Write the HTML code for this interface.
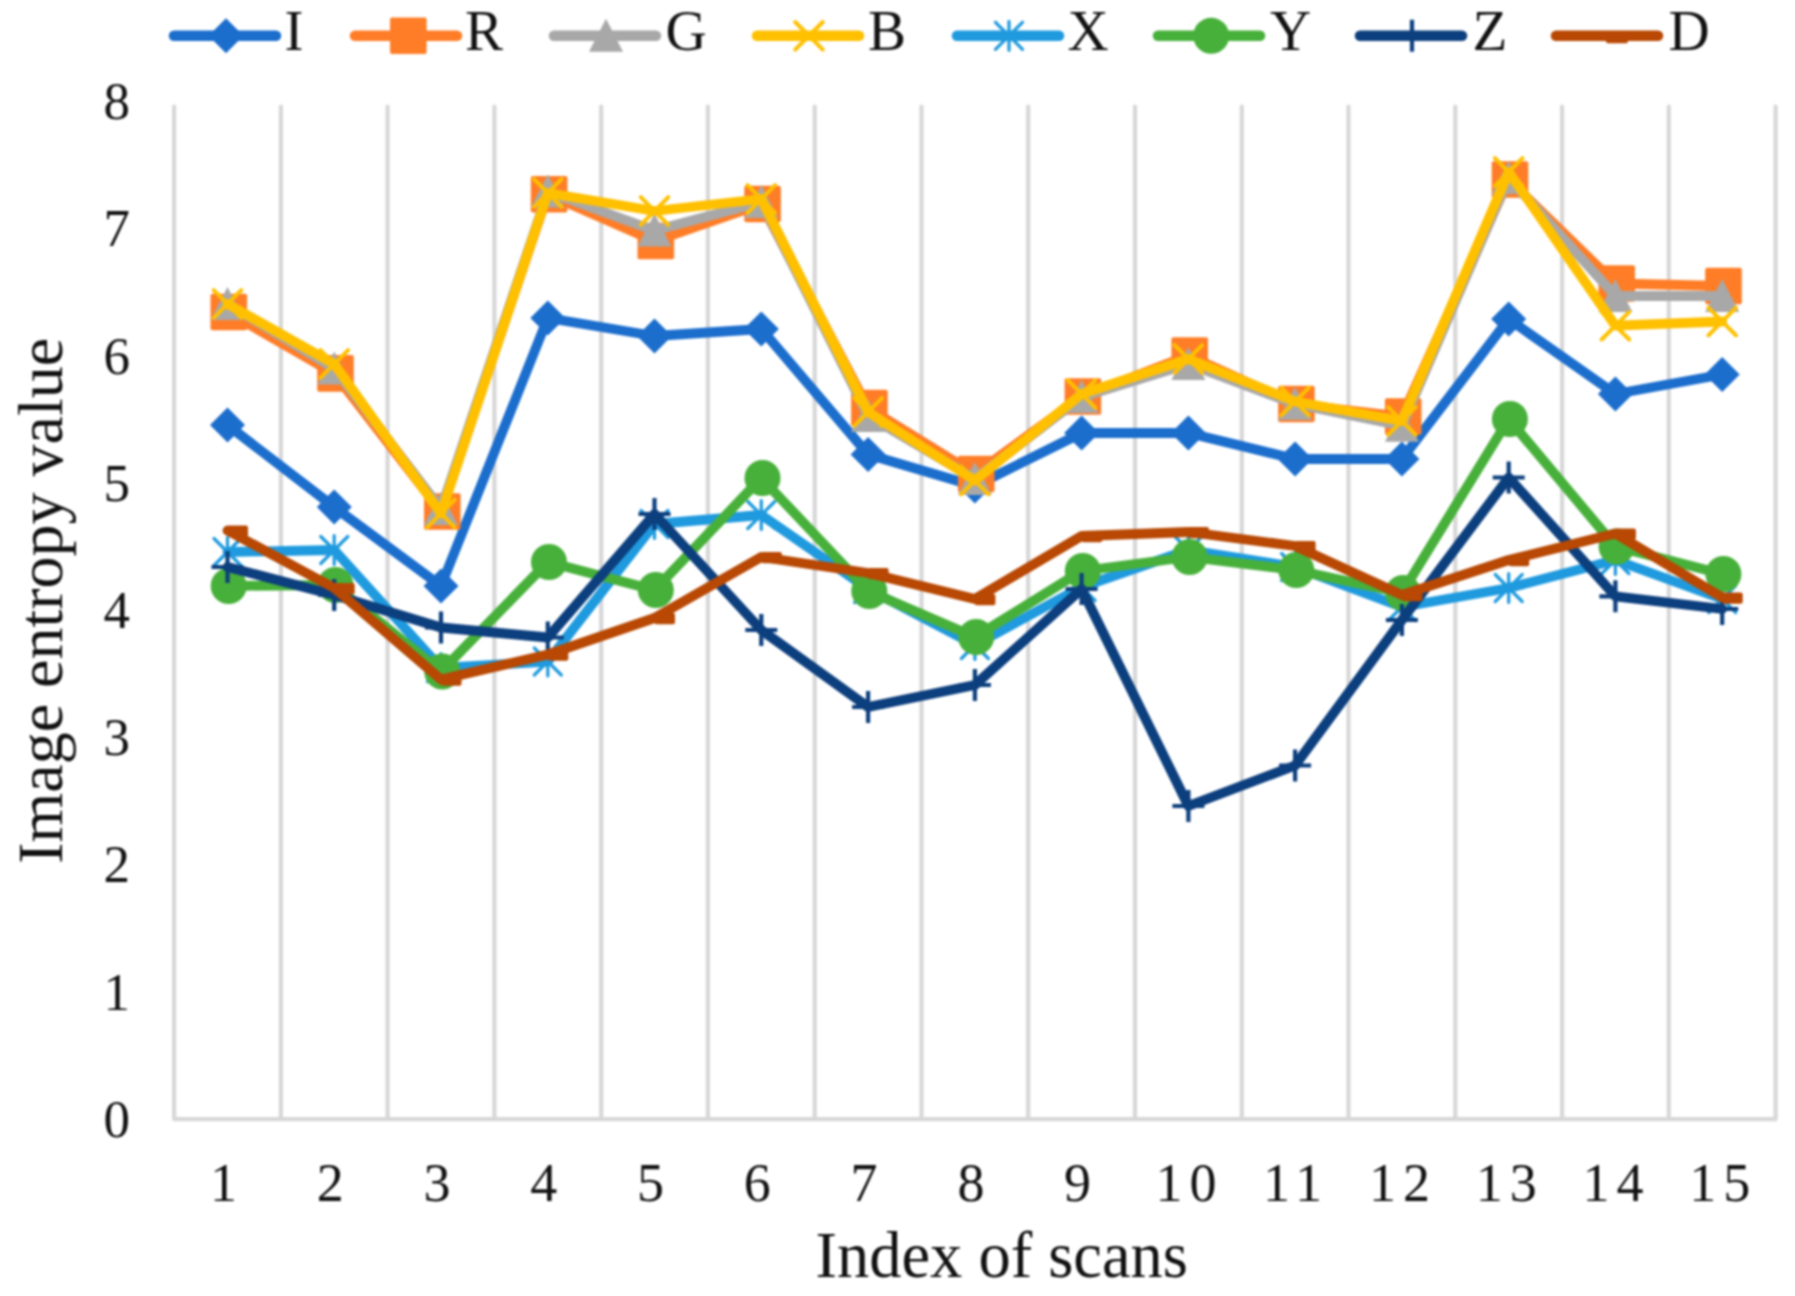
<!DOCTYPE html>
<html><head><meta charset="utf-8"><title>Image entropy chart</title>
<style>
html,body{margin:0;padding:0;background:#fff;}
body{width:1795px;height:1296px;overflow:hidden;}
svg{display:block;filter:blur(0.8px);}
text{font-family:"Liberation Serif","Times New Roman",serif;fill:#111;}
</style></head><body>
<svg width="1795" height="1296" viewBox="0 0 1795 1296">
<rect width="1795" height="1296" fill="#fff"/>

<path d="M174.1 106.6V1119.1M280.9 106.6V1119.1M387.6 106.6V1119.1M494.4 106.6V1119.1M601.2 106.6V1119.1M707.9 106.6V1119.1M814.7 106.6V1119.1M921.5 106.6V1119.1M1028.2 106.6V1119.1M1135.0 106.6V1119.1M1241.8 106.6V1119.1M1348.5 106.6V1119.1M1455.3 106.6V1119.1M1562.1 106.6V1119.1M1668.8 106.6V1119.1M1775.6 106.6V1119.1M174.1 1119.1H1775.6" stroke="#d7d7d7" stroke-width="4.2" fill="none" stroke-linecap="round"/>
<text x="130" y="1136.8" font-size="53" text-anchor="end">0</text>
<text x="130" y="1009.6" font-size="53" text-anchor="end">1</text>
<text x="130" y="882.4" font-size="53" text-anchor="end">2</text>
<text x="130" y="755.1" font-size="53" text-anchor="end">3</text>
<text x="130" y="627.9" font-size="53" text-anchor="end">4</text>
<text x="130" y="500.7" font-size="53" text-anchor="end">5</text>
<text x="130" y="373.5" font-size="53" text-anchor="end">6</text>
<text x="130" y="246.3" font-size="53" text-anchor="end">7</text>
<text x="130" y="119.0" font-size="53" text-anchor="end">8</text>
<text x="223.5" y="1200.5" font-size="54" text-anchor="middle">1</text>
<text x="330.2" y="1200.5" font-size="54" text-anchor="middle">2</text>
<text x="437.0" y="1200.5" font-size="54" text-anchor="middle">3</text>
<text x="543.8" y="1200.5" font-size="54" text-anchor="middle">4</text>
<text x="650.5" y="1200.5" font-size="54" text-anchor="middle">5</text>
<text x="757.3" y="1200.5" font-size="54" text-anchor="middle">6</text>
<text x="864.1" y="1200.5" font-size="54" text-anchor="middle">7</text>
<text x="970.9" y="1200.5" font-size="54" text-anchor="middle">8</text>
<text x="1077.6" y="1200.5" font-size="54" text-anchor="middle">9</text>
<text x="1189.4" y="1200.5" font-size="54" text-anchor="middle" letter-spacing="7">10</text>
<text x="1296.1" y="1200.5" font-size="54" text-anchor="middle" letter-spacing="7">11</text>
<text x="1402.9" y="1200.5" font-size="54" text-anchor="middle" letter-spacing="7">12</text>
<text x="1509.7" y="1200.5" font-size="54" text-anchor="middle" letter-spacing="7">13</text>
<text x="1616.4" y="1200.5" font-size="54" text-anchor="middle" letter-spacing="7">14</text>
<text x="1723.2" y="1200.5" font-size="54" text-anchor="middle" letter-spacing="7">15</text>
<text x="1001.7" y="1276.5" font-size="64.5" text-anchor="middle">Index of scans</text>
<text transform="translate(62 600.8) rotate(-90)" font-size="64" text-anchor="middle">Image entropy value</text>
<g><polyline points="227.5,425.0 334.2,507.0 441.0,586.0 547.8,318.0 654.5,336.0 761.3,329.0 868.1,454.5 974.9,486.0 1081.6,433.0 1188.4,433.0 1295.1,459.0 1401.9,459.0 1508.7,319.0 1615.4,394.0 1722.2,374.5" fill="none" stroke="#1c6ecd" stroke-width="9.8" stroke-linejoin="round" stroke-linecap="round"/>
<path d="M210.0 425.0L227.5 407.5L245.0 425.0L227.5 442.5Z" fill="#1c6ecd"/>
<path d="M316.8 507.0L334.2 489.5L351.8 507.0L334.2 524.5Z" fill="#1c6ecd"/>
<path d="M423.5 586.0L441.0 568.5L458.5 586.0L441.0 603.5Z" fill="#1c6ecd"/>
<path d="M530.3 318.0L547.8 300.5L565.3 318.0L547.8 335.5Z" fill="#1c6ecd"/>
<path d="M637.0 336.0L654.5 318.5L672.0 336.0L654.5 353.5Z" fill="#1c6ecd"/>
<path d="M743.8 329.0L761.3 311.5L778.8 329.0L761.3 346.5Z" fill="#1c6ecd"/>
<path d="M850.6 454.5L868.1 437.0L885.6 454.5L868.1 472.0Z" fill="#1c6ecd"/>
<path d="M957.4 486.0L974.9 468.5L992.4 486.0L974.9 503.5Z" fill="#1c6ecd"/>
<path d="M1064.1 433.0L1081.6 415.5L1099.1 433.0L1081.6 450.5Z" fill="#1c6ecd"/>
<path d="M1170.9 433.0L1188.4 415.5L1205.9 433.0L1188.4 450.5Z" fill="#1c6ecd"/>
<path d="M1277.6 459.0L1295.1 441.5L1312.6 459.0L1295.1 476.5Z" fill="#1c6ecd"/>
<path d="M1384.4 459.0L1401.9 441.5L1419.4 459.0L1401.9 476.5Z" fill="#1c6ecd"/>
<path d="M1491.2 319.0L1508.7 301.5L1526.2 319.0L1508.7 336.5Z" fill="#1c6ecd"/>
<path d="M1597.9 394.0L1615.4 376.5L1632.9 394.0L1615.4 411.5Z" fill="#1c6ecd"/>
<path d="M1704.7 374.5L1722.2 357.0L1739.7 374.5L1722.2 392.0Z" fill="#1c6ecd"/>
</g>
<g><polyline points="227.5,312.0 334.2,373.4 441.0,511.5 547.8,194.3 654.5,241.0 761.3,204.0 868.1,408.0 974.9,474.0 1081.6,396.5 1188.4,355.5 1295.1,404.0 1401.9,416.5 1508.7,179.5 1615.4,283.5 1722.2,286.0" fill="none" stroke="#ff7d27" stroke-width="9.8" stroke-linejoin="round" stroke-linecap="round"/>
<rect x="210.5" y="293.7" width="36.6" height="36.6" rx="2" fill="#ff7d27"/>
<rect x="317.2" y="355.1" width="36.6" height="36.6" rx="2" fill="#ff7d27"/>
<rect x="424.0" y="493.2" width="36.6" height="36.6" rx="2" fill="#ff7d27"/>
<rect x="530.8" y="176.0" width="36.6" height="36.6" rx="2" fill="#ff7d27"/>
<rect x="637.5" y="222.7" width="36.6" height="36.6" rx="2" fill="#ff7d27"/>
<rect x="744.3" y="185.7" width="36.6" height="36.6" rx="2" fill="#ff7d27"/>
<rect x="851.1" y="389.7" width="36.6" height="36.6" rx="2" fill="#ff7d27"/>
<rect x="957.9" y="455.7" width="36.6" height="36.6" rx="2" fill="#ff7d27"/>
<rect x="1064.6" y="378.2" width="36.6" height="36.6" rx="2" fill="#ff7d27"/>
<rect x="1171.4" y="337.2" width="36.6" height="36.6" rx="2" fill="#ff7d27"/>
<rect x="1278.1" y="385.7" width="36.6" height="36.6" rx="2" fill="#ff7d27"/>
<rect x="1384.9" y="398.2" width="36.6" height="36.6" rx="2" fill="#ff7d27"/>
<rect x="1491.7" y="161.2" width="36.6" height="36.6" rx="2" fill="#ff7d27"/>
<rect x="1598.4" y="265.2" width="36.6" height="36.6" rx="2" fill="#ff7d27"/>
<rect x="1705.2" y="267.7" width="36.6" height="36.6" rx="2" fill="#ff7d27"/>
</g>
<g><polyline points="227.5,304.0 334.2,368.4 441.0,509.0 547.8,191.5 654.5,230.6 761.3,202.0 868.1,416.0 974.9,479.0 1081.6,397.0 1188.4,364.0 1295.1,404.0 1401.9,425.7 1508.7,178.0 1615.4,296.0 1722.2,296.0" fill="none" stroke="#a8a8a8" stroke-width="9.8" stroke-linejoin="round" stroke-linecap="round"/>
<path d="M227.5 287.0L244.5 320.0L210.5 320.0Z" fill="#a8a8a8"/>
<path d="M334.2 351.4L351.2 384.4L317.2 384.4Z" fill="#a8a8a8"/>
<path d="M441.0 492.0L458.0 525.0L424.0 525.0Z" fill="#a8a8a8"/>
<path d="M547.8 174.5L564.8 207.5L530.8 207.5Z" fill="#a8a8a8"/>
<path d="M654.5 213.6L671.5 246.6L637.5 246.6Z" fill="#a8a8a8"/>
<path d="M761.3 185.0L778.3 218.0L744.3 218.0Z" fill="#a8a8a8"/>
<path d="M868.1 399.0L885.1 432.0L851.1 432.0Z" fill="#a8a8a8"/>
<path d="M974.9 462.0L991.9 495.0L957.9 495.0Z" fill="#a8a8a8"/>
<path d="M1081.6 380.0L1098.6 413.0L1064.6 413.0Z" fill="#a8a8a8"/>
<path d="M1188.4 347.0L1205.4 380.0L1171.4 380.0Z" fill="#a8a8a8"/>
<path d="M1295.1 387.0L1312.1 420.0L1278.1 420.0Z" fill="#a8a8a8"/>
<path d="M1401.9 408.7L1418.9 441.7L1384.9 441.7Z" fill="#a8a8a8"/>
<path d="M1508.7 161.0L1525.7 194.0L1491.7 194.0Z" fill="#a8a8a8"/>
<path d="M1615.4 279.0L1632.4 312.0L1598.4 312.0Z" fill="#a8a8a8"/>
<path d="M1722.2 279.0L1739.2 312.0L1705.2 312.0Z" fill="#a8a8a8"/>
</g>
<g><polyline points="227.5,304.0 334.2,364.0 441.0,513.5 547.8,193.0 654.5,211.0 761.3,199.0 868.1,412.0 974.9,480.5 1081.6,394.0 1188.4,359.0 1295.1,401.5 1401.9,421.0 1508.7,172.0 1615.4,325.7 1722.2,321.5" fill="none" stroke="#ffc000" stroke-width="9.8" stroke-linejoin="round" stroke-linecap="round"/>
<path d="M213.7 290.2L241.3 317.8M241.3 290.2L213.7 317.8" stroke="#ffc000" stroke-width="4" stroke-linecap="round" fill="none"/>
<path d="M320.4 350.2L348.1 377.8M348.1 350.2L320.4 377.8" stroke="#ffc000" stroke-width="4" stroke-linecap="round" fill="none"/>
<path d="M427.2 499.7L454.8 527.3M454.8 499.7L427.2 527.3" stroke="#ffc000" stroke-width="4" stroke-linecap="round" fill="none"/>
<path d="M534.0 179.2L561.6 206.8M561.6 179.2L534.0 206.8" stroke="#ffc000" stroke-width="4" stroke-linecap="round" fill="none"/>
<path d="M640.8 197.2L668.3 224.8M668.3 197.2L640.8 224.8" stroke="#ffc000" stroke-width="4" stroke-linecap="round" fill="none"/>
<path d="M747.5 185.2L775.1 212.8M775.1 185.2L747.5 212.8" stroke="#ffc000" stroke-width="4" stroke-linecap="round" fill="none"/>
<path d="M854.3 398.2L881.9 425.8M881.9 398.2L854.3 425.8" stroke="#ffc000" stroke-width="4" stroke-linecap="round" fill="none"/>
<path d="M961.1 466.7L988.6 494.3M988.6 466.7L961.1 494.3" stroke="#ffc000" stroke-width="4" stroke-linecap="round" fill="none"/>
<path d="M1067.8 380.2L1095.4 407.8M1095.4 380.2L1067.8 407.8" stroke="#ffc000" stroke-width="4" stroke-linecap="round" fill="none"/>
<path d="M1174.6 345.2L1202.2 372.8M1202.2 345.2L1174.6 372.8" stroke="#ffc000" stroke-width="4" stroke-linecap="round" fill="none"/>
<path d="M1281.3 387.7L1308.9 415.3M1308.9 387.7L1281.3 415.3" stroke="#ffc000" stroke-width="4" stroke-linecap="round" fill="none"/>
<path d="M1388.1 407.2L1415.7 434.8M1415.7 407.2L1388.1 434.8" stroke="#ffc000" stroke-width="4" stroke-linecap="round" fill="none"/>
<path d="M1494.9 158.2L1522.5 185.8M1522.5 158.2L1494.9 185.8" stroke="#ffc000" stroke-width="4" stroke-linecap="round" fill="none"/>
<path d="M1601.6 311.9L1629.2 339.5M1629.2 311.9L1601.6 339.5" stroke="#ffc000" stroke-width="4" stroke-linecap="round" fill="none"/>
<path d="M1708.4 307.7L1736.0 335.3M1736.0 307.7L1708.4 335.3" stroke="#ffc000" stroke-width="4" stroke-linecap="round" fill="none"/>
</g>
<g><polyline points="227.5,552.0 334.2,550.0 441.0,668.0 547.8,661.5 654.5,524.0 761.3,515.0 868.1,589.0 974.9,645.0 1081.6,587.0 1188.4,550.0 1295.1,567.0 1401.9,607.0 1508.7,588.0 1615.4,560.0 1722.2,599.0" fill="none" stroke="#1f9ade" stroke-width="9.8" stroke-linejoin="round" stroke-linecap="round"/>
<path d="M214.0 538.5L241.0 565.5M241.0 538.5L214.0 565.5M227.5 537.5L227.5 566.5" stroke="#1f9ade" stroke-width="3.2" stroke-linecap="round" fill="none"/>
<path d="M320.8 536.5L347.8 563.5M347.8 536.5L320.8 563.5M334.2 535.5L334.2 564.5" stroke="#1f9ade" stroke-width="3.2" stroke-linecap="round" fill="none"/>
<path d="M427.5 654.5L454.5 681.5M454.5 654.5L427.5 681.5M441.0 653.5L441.0 682.5" stroke="#1f9ade" stroke-width="3.2" stroke-linecap="round" fill="none"/>
<path d="M534.3 648.0L561.3 675.0M561.3 648.0L534.3 675.0M547.8 647.0L547.8 676.0" stroke="#1f9ade" stroke-width="3.2" stroke-linecap="round" fill="none"/>
<path d="M641.0 510.5L668.0 537.5M668.0 510.5L641.0 537.5M654.5 509.5L654.5 538.5" stroke="#1f9ade" stroke-width="3.2" stroke-linecap="round" fill="none"/>
<path d="M747.8 501.5L774.8 528.5M774.8 501.5L747.8 528.5M761.3 500.5L761.3 529.5" stroke="#1f9ade" stroke-width="3.2" stroke-linecap="round" fill="none"/>
<path d="M854.6 575.5L881.6 602.5M881.6 575.5L854.6 602.5M868.1 574.5L868.1 603.5" stroke="#1f9ade" stroke-width="3.2" stroke-linecap="round" fill="none"/>
<path d="M961.4 631.5L988.4 658.5M988.4 631.5L961.4 658.5M974.9 630.5L974.9 659.5" stroke="#1f9ade" stroke-width="3.2" stroke-linecap="round" fill="none"/>
<path d="M1068.1 573.5L1095.1 600.5M1095.1 573.5L1068.1 600.5M1081.6 572.5L1081.6 601.5" stroke="#1f9ade" stroke-width="3.2" stroke-linecap="round" fill="none"/>
<path d="M1174.9 536.5L1201.9 563.5M1201.9 536.5L1174.9 563.5M1188.4 535.5L1188.4 564.5" stroke="#1f9ade" stroke-width="3.2" stroke-linecap="round" fill="none"/>
<path d="M1281.6 553.5L1308.6 580.5M1308.6 553.5L1281.6 580.5M1295.1 552.5L1295.1 581.5" stroke="#1f9ade" stroke-width="3.2" stroke-linecap="round" fill="none"/>
<path d="M1388.4 593.5L1415.4 620.5M1415.4 593.5L1388.4 620.5M1401.9 592.5L1401.9 621.5" stroke="#1f9ade" stroke-width="3.2" stroke-linecap="round" fill="none"/>
<path d="M1495.2 574.5L1522.2 601.5M1522.2 574.5L1495.2 601.5M1508.7 573.5L1508.7 602.5" stroke="#1f9ade" stroke-width="3.2" stroke-linecap="round" fill="none"/>
<path d="M1601.9 546.5L1628.9 573.5M1628.9 546.5L1601.9 573.5M1615.4 545.5L1615.4 574.5" stroke="#1f9ade" stroke-width="3.2" stroke-linecap="round" fill="none"/>
<path d="M1708.7 585.5L1735.7 612.5M1735.7 585.5L1708.7 612.5M1722.2 584.5L1722.2 613.5" stroke="#1f9ade" stroke-width="3.2" stroke-linecap="round" fill="none"/>
</g>
<g><polyline points="227.5,586.0 334.2,585.0 441.0,671.5 547.8,562.0 654.5,590.0 761.3,478.0 868.1,591.0 974.9,637.0 1081.6,571.0 1188.4,557.0 1295.1,570.0 1401.9,593.0 1508.7,419.0 1615.4,546.5 1722.2,574.0" fill="none" stroke="#47b03a" stroke-width="9.8" stroke-linejoin="round" stroke-linecap="round"/>
<circle cx="228.7" cy="586.0" r="18" fill="#47b03a"/>
<circle cx="335.4" cy="585.0" r="18" fill="#47b03a"/>
<circle cx="442.2" cy="671.5" r="18" fill="#47b03a"/>
<circle cx="549.0" cy="562.0" r="18" fill="#47b03a"/>
<circle cx="655.8" cy="590.0" r="18" fill="#47b03a"/>
<circle cx="762.5" cy="478.0" r="18" fill="#47b03a"/>
<circle cx="869.3" cy="591.0" r="18" fill="#47b03a"/>
<circle cx="976.1" cy="637.0" r="18" fill="#47b03a"/>
<circle cx="1082.8" cy="571.0" r="18" fill="#47b03a"/>
<circle cx="1189.6" cy="557.0" r="18" fill="#47b03a"/>
<circle cx="1296.3" cy="570.0" r="18" fill="#47b03a"/>
<circle cx="1403.1" cy="593.0" r="18" fill="#47b03a"/>
<circle cx="1509.9" cy="419.0" r="18" fill="#47b03a"/>
<circle cx="1616.6" cy="546.5" r="18" fill="#47b03a"/>
<circle cx="1723.4" cy="574.0" r="18" fill="#47b03a"/>
</g>
<g><polyline points="227.5,567.0 334.2,595.0 441.0,627.5 547.8,637.5 654.5,514.0 761.3,630.0 868.1,707.0 974.9,685.0 1081.6,589.0 1188.4,806.0 1295.1,765.5 1401.9,620.0 1508.7,477.5 1615.4,596.3 1722.2,609.0" fill="none" stroke="#0c3f7e" stroke-width="9.8" stroke-linejoin="round" stroke-linecap="round"/>
<path d="M211.5 567.0L243.5 567.0M227.5 551.0L227.5 583.0" stroke="#0c3f7e" stroke-width="4.2" fill="none"/>
<path d="M318.2 595.0L350.2 595.0M334.2 579.0L334.2 611.0" stroke="#0c3f7e" stroke-width="4.2" fill="none"/>
<path d="M425.0 627.5L457.0 627.5M441.0 611.5L441.0 643.5" stroke="#0c3f7e" stroke-width="4.2" fill="none"/>
<path d="M531.8 637.5L563.8 637.5M547.8 621.5L547.8 653.5" stroke="#0c3f7e" stroke-width="4.2" fill="none"/>
<path d="M638.5 514.0L670.5 514.0M654.5 498.0L654.5 530.0" stroke="#0c3f7e" stroke-width="4.2" fill="none"/>
<path d="M745.3 630.0L777.3 630.0M761.3 614.0L761.3 646.0" stroke="#0c3f7e" stroke-width="4.2" fill="none"/>
<path d="M852.1 707.0L884.1 707.0M868.1 691.0L868.1 723.0" stroke="#0c3f7e" stroke-width="4.2" fill="none"/>
<path d="M958.9 685.0L990.9 685.0M974.9 669.0L974.9 701.0" stroke="#0c3f7e" stroke-width="4.2" fill="none"/>
<path d="M1065.6 589.0L1097.6 589.0M1081.6 573.0L1081.6 605.0" stroke="#0c3f7e" stroke-width="4.2" fill="none"/>
<path d="M1172.4 806.0L1204.4 806.0M1188.4 790.0L1188.4 822.0" stroke="#0c3f7e" stroke-width="4.2" fill="none"/>
<path d="M1279.1 765.5L1311.1 765.5M1295.1 749.5L1295.1 781.5" stroke="#0c3f7e" stroke-width="4.2" fill="none"/>
<path d="M1385.9 620.0L1417.9 620.0M1401.9 604.0L1401.9 636.0" stroke="#0c3f7e" stroke-width="4.2" fill="none"/>
<path d="M1492.7 477.5L1524.7 477.5M1508.7 461.5L1508.7 493.5" stroke="#0c3f7e" stroke-width="4.2" fill="none"/>
<path d="M1599.4 596.3L1631.4 596.3M1615.4 580.3L1615.4 612.3" stroke="#0c3f7e" stroke-width="4.2" fill="none"/>
<path d="M1706.2 609.0L1738.2 609.0M1722.2 593.0L1722.2 625.0" stroke="#0c3f7e" stroke-width="4.2" fill="none"/>
</g>
<g><polyline points="227.5,530.5 334.2,588.0 441.0,679.5 547.8,654.5 654.5,618.0 761.3,557.0 868.1,573.0 974.9,599.0 1081.6,536.0 1188.4,532.0 1295.1,546.0 1401.9,595.0 1508.7,560.0 1615.4,533.5 1722.2,597.5" fill="none" stroke="#b84803" stroke-width="9.8" stroke-linejoin="round" stroke-linecap="round"/>
<rect x="227.5" y="525.6" width="20.5" height="11.2" rx="2" fill="#b84803"/>
<rect x="334.2" y="583.1" width="20.5" height="11.2" rx="2" fill="#b84803"/>
<rect x="441.0" y="674.6" width="20.5" height="11.2" rx="2" fill="#b84803"/>
<rect x="547.8" y="649.6" width="20.5" height="11.2" rx="2" fill="#b84803"/>
<rect x="654.5" y="613.1" width="20.5" height="11.2" rx="2" fill="#b84803"/>
<rect x="761.3" y="552.1" width="20.5" height="11.2" rx="2" fill="#b84803"/>
<rect x="868.1" y="568.1" width="20.5" height="11.2" rx="2" fill="#b84803"/>
<rect x="974.9" y="594.1" width="20.5" height="11.2" rx="2" fill="#b84803"/>
<rect x="1081.6" y="531.1" width="20.5" height="11.2" rx="2" fill="#b84803"/>
<rect x="1188.4" y="527.1" width="20.5" height="11.2" rx="2" fill="#b84803"/>
<rect x="1295.1" y="541.1" width="20.5" height="11.2" rx="2" fill="#b84803"/>
<rect x="1401.9" y="590.1" width="20.5" height="11.2" rx="2" fill="#b84803"/>
<rect x="1508.7" y="555.1" width="20.5" height="11.2" rx="2" fill="#b84803"/>
<rect x="1615.4" y="528.6" width="20.5" height="11.2" rx="2" fill="#b84803"/>
<rect x="1722.2" y="592.6" width="20.5" height="11.2" rx="2" fill="#b84803"/>
</g>
<g><path d="M174 35.8H276" stroke="#1c6ecd" stroke-width="10.5" stroke-linecap="round" fill="none"/>
<path d="M208.5 35.8L226.0 18.3L243.5 35.8L226.0 53.3Z" fill="#1c6ecd"/>
<text x="284.5" y="50" font-size="57">I</text></g>
<g><path d="M355 35.8H457" stroke="#ff7d27" stroke-width="10.5" stroke-linecap="round" fill="none"/>
<rect x="390.0" y="17.5" width="36.6" height="36.6" rx="2" fill="#ff7d27"/>
<text x="465" y="50" font-size="57">R</text></g>
<g><path d="M554 35.8H656" stroke="#a8a8a8" stroke-width="10.5" stroke-linecap="round" fill="none"/>
<path d="M606.0 18.8L623.0 51.8L589.0 51.8Z" fill="#a8a8a8"/>
<text x="665.5" y="50" font-size="57">G</text></g>
<g><path d="M757 35.8H859" stroke="#ffc000" stroke-width="10.5" stroke-linecap="round" fill="none"/>
<path d="M795.2 22.0L822.8 49.6M822.8 22.0L795.2 49.6" stroke="#ffc000" stroke-width="4" stroke-linecap="round" fill="none"/>
<text x="868" y="50" font-size="57">B</text></g>
<g><path d="M957 35.8H1059" stroke="#1f9ade" stroke-width="10.5" stroke-linecap="round" fill="none"/>
<path d="M995.5 22.3L1022.5 49.3M1022.5 22.3L995.5 49.3M1009.0 21.3L1009.0 50.3" stroke="#1f9ade" stroke-width="3.2" stroke-linecap="round" fill="none"/>
<text x="1067.5" y="50" font-size="57">X</text></g>
<g><path d="M1158 35.8H1260" stroke="#47b03a" stroke-width="10.5" stroke-linecap="round" fill="none"/>
<circle cx="1211.2" cy="35.8" r="18" fill="#47b03a"/>
<text x="1270" y="50" font-size="57">Y</text></g>
<g><path d="M1360 35.8H1462" stroke="#0c3f7e" stroke-width="10.5" stroke-linecap="round" fill="none"/>
<path d="M1396.0 35.8L1428.0 35.8M1412.0 19.8L1412.0 51.8" stroke="#0c3f7e" stroke-width="4.2" fill="none"/>
<text x="1472.5" y="50" font-size="57">Z</text></g>
<g><path d="M1556 35.8H1658" stroke="#b84803" stroke-width="10.5" stroke-linecap="round" fill="none"/>
<rect x="1606.0" y="32.3" width="22" height="10.9" rx="2" fill="#b84803"/>
<text x="1668.5" y="50" font-size="57">D</text></g>
</svg></body></html>
